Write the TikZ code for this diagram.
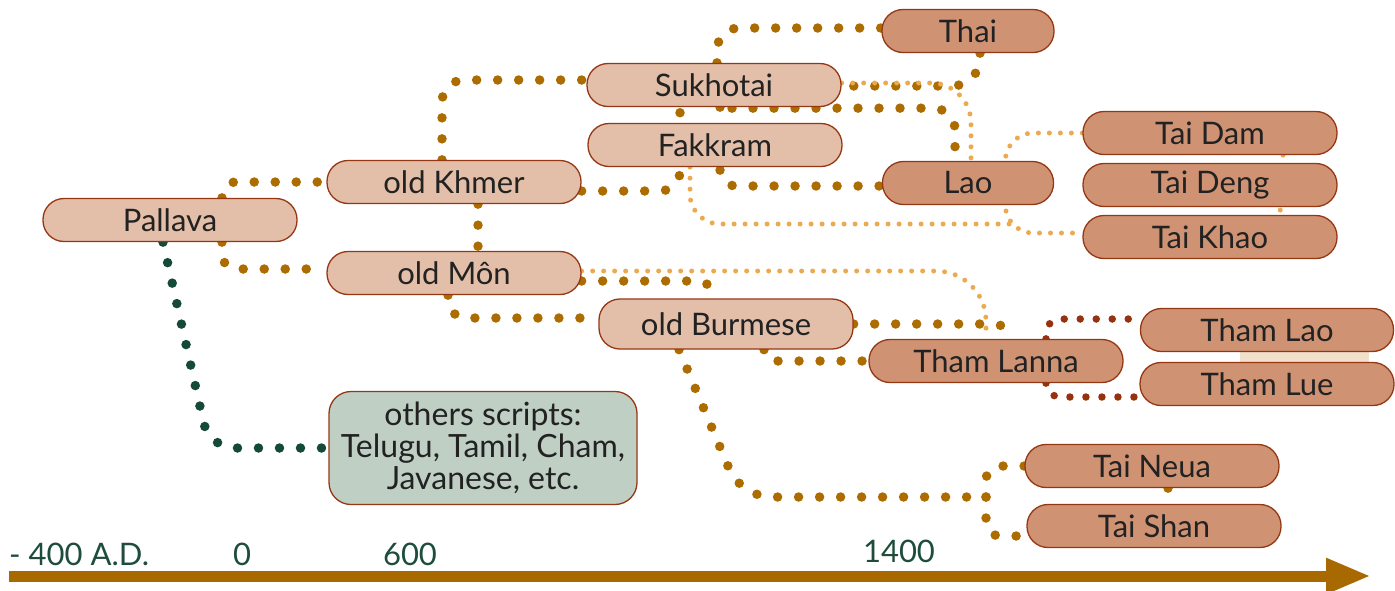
\documentclass[tikz,border=0pt]{standalone}
\usepackage{fontspec}
\setmainfont{Lato}
\usetikzlibrary{arrows.meta,backgrounds}

\definecolor{lightfill}{RGB}{227,190,168}
\definecolor{darkfill}{RGB}{207,147,116}
\definecolor{greenfill}{RGB}{191,207,196}
\definecolor{boxline}{RGB}{150,55,20}
\definecolor{golddot}{RGB}{172,108,0}
\definecolor{paledot}{RGB}{235,170,80}
\definecolor{greendot}{RGB}{22,74,56}
\definecolor{reddot}{RGB}{150,50,15}
\definecolor{axiscol}{RGB}{168,106,0}
\definecolor{labelcol}{RGB}{30,77,60}
\definecolor{textcol}{RGB}{34,34,34}
\definecolor{smudge}{RGB}{240,224,204}

\tikzset{
    scriptbox/.style={draw=boxline, line width=1.3pt, rounded corners=21pt,
        minimum width=254pt, minimum height=43pt, inner sep=0pt,
        text=textcol, font=\fontsize{31}{33}\selectfont},
    lightbox/.style={scriptbox, fill=lightfill},
    darkbox/.style={scriptbox, fill=darkfill},
    otherbox/.style={scriptbox, fill=greenfill, rounded corners=22pt,
        minimum width=308pt, minimum height=113pt, align=center,
        font=\fontsize{32}{32}\selectfont},
    golddots/.style={draw=golddot, line width=9.5pt, line cap=round, dash pattern=on 0pt off 21pt},
    greendots/.style={draw=greendot, line width=9.5pt, line cap=round, dash pattern=on 0pt off 21pt},
    paledots/.style={draw=paledot, line width=5pt, line cap=round, dash pattern=on 0pt off 11pt},
    reddots/.style={draw=reddot, line width=7.5pt, line cap=round, dash pattern=on 0pt off 16pt},
    axislabel/.style={text=labelcol, inner sep=0pt, font=\fontsize{31}{33}\selectfont}
}

\begin{document}
\begin{tikzpicture}[x=1pt, y=-1pt]
    \useasboundingbox (0,0) rectangle (1395,590);

    % Old scripts
    \node[lightbox] (pallava) at (170,220) {Pallava};
    \node[lightbox] (khmer) at (454,182) {old Khmer};
    \node[lightbox] (mon) at (454,273) {old Môn};
    \node[lightbox] (sukhotai) at (714,85) {Sukhotai};
    \node[lightbox] (fakkram) at (715,145) {Fakkram};
    \node[lightbox, minimum height=50pt] (burmese) at (726,324) {old Burmese};
    \node[otherbox] (others) at (483,448) {others scripts:\\Telugu, Tamil, Cham,\\Javanese, etc.};

    % Modern scripts
    \node[darkbox, minimum width=172pt] (thai) at (968,31) {Thai};
    \node[darkbox, minimum width=171pt] (lao) at (968,183) {Lao};
    \node[darkbox] (taidam) at (1210,133) {Tai Dam};
    \node[darkbox] (taideng) at (1210,185) {Tai Deng};
    \node[darkbox] (taikhao) at (1210,237) {Tai Khao};
    \node[darkbox] (thamlanna) at (996,361) {Tham Lanna};
    \node[darkbox, minimum width=253pt] (thamlao) at (1267,330) {Tham Lao};
    \node[darkbox] (thamlue) at (1267,384) {Tham Lue};
    \node[darkbox] (taineua) at (1152,466) {Tai Neua};
    \node[darkbox] (taishan) at (1154,526) {Tai Shan};

    % Links
    \coordinate (split) at (986,497);
    \begin{pgfonlayer}{background}
    \fill[smudge] (1240,352) rectangle (1369,362);
    \draw[golddots, rounded corners=14pt] ([xshift=52pt]pallava.north) |- (khmer.west);
    \draw[golddots, rounded corners=14pt] ([xshift=52pt]pallava.south) |- ([yshift=4pt]mon.west);
    \draw[golddots] ([xshift=24pt]khmer.south) -- ([xshift=24pt]mon.north);
    \draw[golddots, rounded corners=22pt] ([xshift=-12pt]khmer.north) |- ([yshift=5pt]sukhotai.west);
    \draw[golddots, rounded corners=20pt] ([yshift=-9pt]khmer.east) -| ([xshift=-34pt]sukhotai.south);
    \draw[golddots, rounded corners=22pt] ([xshift=3pt]sukhotai.north) |- ([yshift=3pt]thai.west);
    \draw[golddots, rounded corners=28pt] ([xshift=12pt]thai.south) |- ([yshift=-1pt]sukhotai.east);
    \draw[golddots, rounded corners=16pt] ([xshift=6pt]sukhotai.south) |- ([yshift=-3pt]lao.west);
    \draw[golddots, rounded corners=22pt] ([xshift=18pt,yshift=-1pt]sukhotai.south) -| ([xshift=-13pt]lao.north);
    \draw[golddots, rounded corners=12pt] ([yshift=-8pt]mon.east) -| ([xshift=-15pt]burmese.north);
    \draw[golddots, rounded corners=18pt] ([xshift=-6pt]mon.south) |- ([yshift=6pt]burmese.west);
    \draw[golddots, rounded corners=16pt] (burmese.east) -| ([xshift=14pt]thamlanna.north);
    \draw[golddots, rounded corners=10pt] ([xshift=38pt]burmese.south) |- (thamlanna.west);
    \draw[golddots, rounded corners=30pt] ([xshift=-47pt]burmese.south) -- ([xshift=15pt]split -| burmese.south) -- (split);
    \draw[golddots, rounded corners=14pt] (split) |- (taineua.west);
    \draw[golddots, rounded corners=14pt] (split) |- ([yshift=-10pt]taishan.west);
    \draw[golddots] ([xshift=16pt]taineua.south) -- ([xshift=14pt]taishan.north);

    \draw[paledots, rounded corners=40pt] ([yshift=2pt]sukhotai.east) -| ([xshift=3pt]lao.north);
    \draw[paledots, rounded corners=30pt] ([xshift=-25pt]fakkram.south) |- ([xshift=-65pt,yshift=13pt]taikhao.west);
    \draw[paledots, rounded corners=28pt] (taidam.west) -| ([xshift=-77pt,yshift=4pt]taikhao.west) -- ([yshift=4pt]taikhao.west);
    \draw[paledots] ([xshift=73pt]taidam.south) -- ([xshift=70pt]taikhao.north);
    \draw[paledots, rounded corners=50pt] ([yshift=2pt]mon.east) -| ([xshift=-10pt]thamlanna.north);

    \draw[greendots, rounded corners=25pt] ([xshift=-7pt]pallava.south) -- ([xshift=-119pt]others.west) -- (others.west);

    \draw[reddots, rounded corners=14pt] ([xshift=50pt]thamlanna.north) |- ([yshift=11pt]thamlao.west);
    \draw[reddots, rounded corners=14pt] ([xshift=50pt]thamlanna.south) |- ([yshift=-13pt]thamlue.west);
    \end{pgfonlayer}

    % Time axis
    \coordinate (axisstart) at (9,576);
    \coordinate (axisend) at (1371,576);
    \draw[axiscol, line width=11pt, -{Triangle[length=45pt,width=33pt]}] (axisstart) -- (axisend);
    \node[axislabel, anchor=base west] (minusfour) at (9,565) {- 400 A.D.};
    \node[axislabel, anchor=base] (zero) at (242,565) {0};
    \node[axislabel, anchor=base] (sixhundred) at (410,565) {600};
    \node[axislabel, anchor=base] (fourteen) at (899,562) {1400};
\end{tikzpicture}
\end{document}
